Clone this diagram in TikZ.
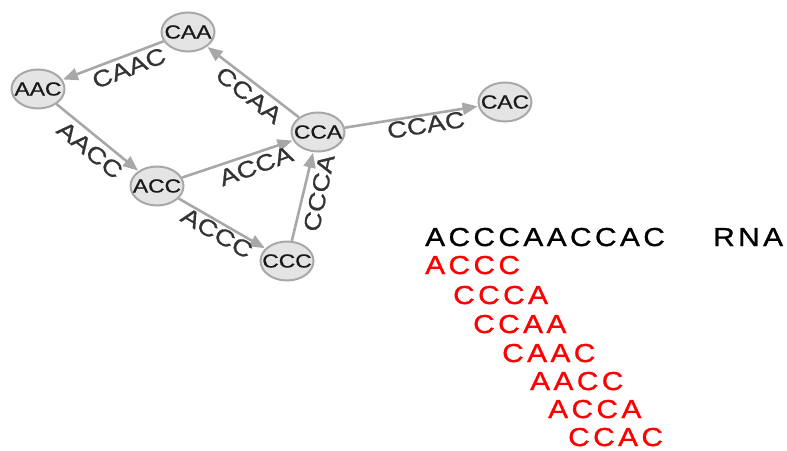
\documentclass[tikz,border=0pt]{standalone}
\usepackage{fontspec}
\setmainfont{Liberation Sans}[FakeStretch=1.2,FakeBold=0.8]
\newfontfamily\seqfont{Liberation Sans}[FakeStretch=1.15,LetterSpace=13,FakeBold=1]
\usetikzlibrary{arrows.meta,shapes.geometric}
\definecolor{edgegray}{HTML}{A8A8A8}
\definecolor{nodefill}{HTML}{E4E4E4}
\definecolor{labgray}{HTML}{333333}
\newcommand\vlab[1]{\makebox[0pt]{#1}}
\tikzset{
  vtx/.style={ellipse, draw=edgegray, line width=2pt, fill=nodefill, minimum width=53pt, minimum height=39pt, inner sep=0pt, text=black!90, font=\fontsize{19}{19}\selectfont},
  conn/.style={draw=edgegray, line width=2.6pt, -{Triangle[length=15pt,width=12pt]}, shorten >=0.5pt},
  elab/.style={inner sep=0pt, text=labgray, font=\fontsize{23}{23}\selectfont},
  seqtxt/.style={anchor=base west, inner sep=0pt, font=\seqfont\fontsize{26}{26}\selectfont},
  rseq/.style={seqtxt, text=red}
}
\begin{document}
\begin{tikzpicture}[x=1pt,y=-1pt]
\useasboundingbox (0,0) rectangle (787,450);
% nodes
\node[vtx] (CAA) at (188,32) {\vlab{CAA}};
\node[vtx] (AAC) at (38,89) {\vlab{AAC}};
\node[vtx] (ACC) at (157,186) {\vlab{ACC}};
\node[vtx] (CCA) at (318,132) {\vlab{CCA}};
\node[vtx] (CCC) at (287,261) {\vlab{CCC}};
\node[vtx] (CAC) at (505,102) {\vlab{CAC}};
% connectors
\draw[conn] (CAA) -- (AAC);
\draw[conn] (CCA) -- (CAA);
\draw[conn] (AAC) -- (ACC);
\draw[conn] (ACC) -- (CCA);
\draw[conn] (ACC) -- (CCC);
\draw[conn] (CCC) -- (CCA);
\draw[conn] (CCA) -- (CAC);
% edge labels
\node[elab, rotate=21] (lCAAC) at (129,68) {CAAC};
\node[elab, rotate=-38] (lCCAA) at (249,95) {CCAA};
\node[elab, rotate=-39] (lAACC) at (90,150) {AACC};
\node[elab, rotate=20] (lACCA) at (256,166) {ACCA};
\node[elab, rotate=-30] (lACCC) at (217,233) {ACCC};
\node[elab, rotate=78] (lCCCA) at (319,193) {CCCA};
\node[elab, rotate=9] (lCCAC) at (426,125) {CCAC};
% sequences
\node[seqtxt] (rna) at (425,246) {ACCCAACCAC};
\node[seqtxt] (rnalab) at (713,246) {RNA};
\node[rseq] (k1) at (425,274) {ACCC};
\node[rseq] (k2) at (453,304) {CCCA};
\node[rseq] (k3) at (473,333) {CCAA};
\node[rseq] (k4) at (502,362) {CAAC};
\node[rseq] (k5) at (530,390) {AACC};
\node[rseq] (k6) at (548,418) {ACCA};
\node[rseq] (k7) at (568,446) {CCAC};
\end{tikzpicture}
\end{document}
